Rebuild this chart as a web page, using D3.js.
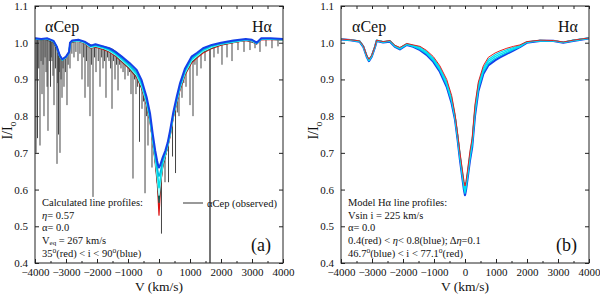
<!DOCTYPE html>
<html>
<head>
<meta charset="utf-8">
<script src="https://cdn.jsdelivr.net/npm/d3@7"></script>
<style>
  body { margin: 0; background: #fff; }
  svg text { font-family: "Liberation Serif", "Times New Roman", serif; fill: #111; }
</style>
</head>
<body>
<svg id="chart" width="600" height="294" font-family="Liberation Serif, serif"></svg>
<script>
// ---- data ----
const xTicks = [-4000, -3000, -2000, -1000, 0, 1000, 2000, 3000, 4000];
const yTicks = [0.4, 0.5, 0.6, 0.7, 0.8, 0.9, 1.0, 1.1];

// panel (a): model grid and profiles for 35deg (red) .. 90deg (blue)
const velA = [-4000,-3800,-3600,-3400,-3300,-3200,-3120,-3000,-2900,-2870,-2800,-2600,-2400,-2200,-2050,-1800,-1600,-1400,-1200,-950,-720,-560,-400,-290,-200,-120,-60,-25,0,25,60,120,200,280,360,460,570,680,840,1050,1220,1420,1700,2000,2400,2800,3000,3150,3300,3600,4000];
const profA35 = [1.010,1.008,1.010,1.003,0.988,0.962,0.952,0.958,0.972,0.997,1.003,1.004,0.998,0.985,0.988,0.982,0.975,0.963,0.948,0.928,0.905,0.875,0.830,0.785,0.728,0.678,0.625,0.572,0.530,0.568,0.618,0.665,0.690,0.715,0.745,0.795,0.835,0.872,0.912,0.945,0.958,0.972,0.984,0.993,1.000,1.006,1.004,0.996,1.008,1.009,1.008];
const profA42 = [1.010,1.008,1.010,1.003,0.988,0.962,0.952,0.959,0.972,0.997,1.003,1.005,0.999,0.986,0.990,0.984,0.977,0.965,0.950,0.930,0.908,0.878,0.833,0.788,0.731,0.681,0.632,0.592,0.565,0.588,0.624,0.667,0.692,0.717,0.748,0.798,0.838,0.875,0.915,0.948,0.961,0.975,0.986,0.995,1.001,1.007,1.005,0.997,1.009,1.009,1.008];
const profA50 = [1.010,1.009,1.010,1.004,0.988,0.963,0.953,0.959,0.973,0.998,1.004,1.005,1.000,0.987,0.991,0.985,0.978,0.967,0.952,0.933,0.911,0.882,0.836,0.791,0.733,0.683,0.640,0.608,0.585,0.603,0.630,0.670,0.694,0.719,0.750,0.800,0.840,0.878,0.918,0.951,0.963,0.977,0.988,0.996,1.002,1.007,1.005,0.998,1.009,1.010,1.008];
const profA60 = [1.011,1.009,1.011,1.004,0.989,0.963,0.953,0.960,0.973,0.998,1.004,1.006,1.001,0.989,0.992,0.986,0.980,0.969,0.955,0.936,0.915,0.886,0.840,0.795,0.737,0.688,0.650,0.624,0.605,0.618,0.640,0.674,0.697,0.721,0.753,0.802,0.843,0.881,0.921,0.954,0.966,0.979,0.990,0.997,1.003,1.008,1.006,0.998,1.010,1.010,1.009];
const profA75 = [1.011,1.009,1.011,1.004,0.989,0.964,0.954,0.961,0.974,0.999,1.005,1.007,1.002,0.990,0.994,0.988,0.982,0.972,0.958,0.940,0.920,0.891,0.845,0.800,0.742,0.695,0.663,0.645,0.636,0.642,0.655,0.680,0.700,0.724,0.757,0.805,0.846,0.885,0.925,0.958,0.969,0.982,0.992,0.998,1.004,1.009,1.007,0.999,1.011,1.011,1.009];
const profA90 = [1.012,1.010,1.012,1.005,0.990,0.965,0.955,0.962,0.975,1.000,1.006,1.008,1.003,0.992,0.996,0.990,0.985,0.975,0.962,0.945,0.926,0.898,0.852,0.808,0.750,0.705,0.678,0.665,0.660,0.664,0.672,0.688,0.705,0.728,0.762,0.810,0.852,0.890,0.930,0.962,0.972,0.985,0.994,1.000,1.006,1.010,1.008,1.000,1.012,1.012,1.010];

// panel (a): observed alpha Cep spectrum (continuum + telluric/blend lines [v, top, bottom])
const obsV = [-4000,-3700,-3400,-3250,-3130,-3000,-2900,-2870,-2600,-2300,-2100,-1800,-1500,-1200,-950,-720,-560,-400,-290,-200,-120,-60,0,60,120,200,280,360,460,570,680,840,1050,1220,1420,1700,2000,2400,2800,3150,3300,3600,4000];
const obsI = [1.012,1.010,1.000,0.975,0.955,0.960,0.975,1.000,1.005,0.998,0.990,0.990,0.982,0.962,0.940,0.915,0.885,0.840,0.790,0.730,0.670,0.620,0.600,0.620,0.660,0.690,0.720,0.750,0.800,0.840,0.880,0.920,0.955,0.968,0.980,0.990,0.998,1.004,1.006,0.998,1.010,1.010,1.008];
const obsLines = [
  [-3968,1.01,0.70],[-3940,1.01,0.90],[-3919,1.01,0.74],[-3880,1.01,0.93],[-3839,1.01,0.72],[-3805,1.01,0.95],
  [-3774,1.01,0.86],[-3740,1.01,0.94],[-3710,1.01,0.80],[-3675,1.01,0.96],[-3645,1.01,0.92],[-3610,1.01,0.88],
  [-3581,1.01,0.76],[-3540,1.008,0.95],[-3500,1.005,0.88],[-3475,1.002,0.96],[-3452,1.0,0.95],[-3420,1.0,0.91],
  [-3387,1.0,0.83],[-3340,0.995,0.93],[-3290,0.985,0.67],[-3265,0.98,0.89],[-3242,0.975,0.75],[-3215,0.97,0.92],
  [-3194,0.965,0.70],[-3160,0.958,0.90],[-3129,0.955,0.85],[-3095,0.955,0.93],[-3065,0.957,0.88],[-3020,0.96,0.92],
  [-2968,0.965,0.83],[-2930,0.97,0.94],[-2871,1.0,0.93],[-2810,1.004,0.97],[-2742,1.005,0.96],[-2680,1.005,0.975],
  [-2613,1.005,0.95],[-2550,1.003,0.97],[-2484,1.0,0.90],[-2430,0.999,0.96],[-2387,0.998,0.85],[-2340,0.997,0.95],
  [-2290,0.996,0.88],[-2226,0.993,0.80],[-2180,0.992,0.94],[-2129,0.99,0.58],[-2080,0.99,0.96],[-2032,0.99,0.92],
  [-1960,0.99,0.95],[-1903,0.99,0.88],[-1850,0.99,0.96],[-1806,0.99,0.93],[-1760,0.989,0.95],[-1710,0.988,0.85],
  [-1660,0.986,0.96],[-1613,0.985,0.95],[-1560,0.983,0.93],[-1516,0.982,0.82],[-1470,0.98,0.95],[-1419,0.978,0.90],
  [-1370,0.974,0.94],[-1322,0.97,0.87],[-1270,0.967,0.94],[-1226,0.963,0.93],[-1160,0.958,0.92],[-1097,0.953,0.90],
  [-1000,0.945,0.91],[-950,0.94,0.92],[-903,0.935,0.86],[-839,0.93,0.63],[-790,0.925,0.90],[-742,0.918,0.86],
  [-690,0.91,0.88],[-629,0.90,0.73],[-548,0.882,0.82],[-500,0.87,0.84],[-451,0.855,0.59],[-400,0.84,0.80],
  [-355,0.82,0.72],[-226,0.75,0.66],[80,0.64,0.48],[194,0.69,0.62],[307,0.73,0.62],[436,0.79,0.69],
  [533,0.825,0.645],[590,0.845,0.81],[645,0.87,0.80],[742,0.895,0.85],[800,0.91,0.89],[871,0.925,0.88],
  [1000,0.95,0.83],[1097,0.958,0.80],[1160,0.962,0.94],[1226,0.968,0.91],[1355,0.976,0.93],[1484,0.982,0.95],
  [1645,0.988,0.30],[1774,0.992,0.96],[1903,0.995,0.97],[2032,0.998,0.94],[2194,1.0,0.96],[2355,1.002,0.95],
  [2548,1.004,0.98],[2742,1.006,0.975],[2935,1.005,0.98],[3097,1.0,0.985],[3258,1.005,0.975],[3452,1.01,0.99],
  [3645,1.01,0.985],[3839,1.01,0.99]
];

// panel (b): model grid and profiles for eta 0.4 (red) .. 0.8 (blue)
const velB = [-4000,-3700,-3400,-3280,-3170,-3100,-3010,-2900,-2850,-2640,-2420,-2260,-2100,-1880,-1670,-1450,-1240,-1020,-810,-590,-430,-320,-235,-160,-75,-30,0,30,75,160,230,320,430,590,750,970,1130,1350,1560,1770,1990,2420,2850,3170,3490,4000];
const profB04 = [1.010,1.008,1.005,0.992,0.966,0.955,0.966,0.992,1.007,1.003,1.006,0.993,0.987,0.998,0.994,0.990,0.979,0.962,0.937,0.900,0.856,0.805,0.752,0.700,0.648,0.622,0.610,0.622,0.648,0.705,0.740,0.830,0.893,0.937,0.960,0.972,0.978,0.985,0.990,0.994,1.003,1.007,1.006,1.002,1.007,1.013];
const profB05 = [1.010,1.008,1.005,0.991,0.965,0.954,0.965,0.991,1.007,1.003,1.005,0.992,0.986,0.997,0.993,0.988,0.976,0.958,0.932,0.894,0.850,0.801,0.748,0.696,0.643,0.615,0.603,0.615,0.643,0.698,0.734,0.823,0.887,0.931,0.954,0.967,0.974,0.981,0.987,0.992,1.002,1.006,1.006,1.002,1.007,1.013];
const profB06 = [1.009,1.007,1.004,0.990,0.964,0.952,0.964,0.991,1.006,1.002,1.005,0.991,0.985,0.996,0.991,0.985,0.973,0.955,0.929,0.889,0.845,0.798,0.744,0.691,0.637,0.609,0.596,0.609,0.637,0.692,0.728,0.815,0.880,0.926,0.949,0.962,0.969,0.977,0.984,0.990,1.002,1.006,1.005,1.001,1.006,1.012];
const profB07 = [1.009,1.007,1.004,0.990,0.963,0.951,0.963,0.990,1.006,1.002,1.004,0.990,0.983,0.995,0.990,0.982,0.970,0.951,0.925,0.884,0.840,0.794,0.739,0.685,0.631,0.602,0.590,0.602,0.631,0.685,0.721,0.807,0.874,0.920,0.943,0.957,0.964,0.973,0.981,0.989,1.001,1.006,1.005,1.001,1.006,1.012];
const profB08 = [1.009,1.007,1.003,0.989,0.962,0.950,0.962,0.989,1.005,1.001,1.003,0.989,0.982,0.994,0.989,0.980,0.967,0.948,0.921,0.880,0.835,0.790,0.735,0.680,0.626,0.598,0.585,0.598,0.626,0.680,0.715,0.800,0.868,0.915,0.938,0.952,0.960,0.970,0.979,0.988,1.000,1.005,1.005,1.000,1.005,1.012];

// ---- drawing ----
const svg = d3.select("#chart");
const plotTop = 6, plotBottom = 263;
const serif = '"Liberation Serif", "Times New Roman", serif';

function drawPanel(cfg) {
  const x = d3.scaleLinear().domain([-4000, 4000]).range([cfg.left, cfg.right]);
  const y = d3.scaleLinear().domain([0.4, 1.1]).range([plotBottom, plotTop]);
  const g = svg.append("g");

  const clipId = "clip-" + cfg.name;
  svg.append("clipPath").attr("id", clipId)
    .append("rect").attr("x", cfg.left).attr("y", plotTop)
    .attr("width", cfg.right - cfg.left).attr("height", plotBottom - plotTop);
  const plot = g.append("g").attr("clip-path", `url(#${clipId})`);

  const line = d3.line().x(d => x(d[0])).y(d => y(d[1]));

  if (cfg.observed) {
    plot.append("path")
      .datum(obsV.map((v, i) => [v, obsI[i]]))
      .attr("fill", "none").attr("stroke", "#555").attr("stroke-width", 1.2)
      .attr("d", line);
    plot.selectAll("line.obs")
      .data(obsLines)
      .join("line")
      .attr("class", "obs")
      .attr("x1", d => x(d[0])).attr("x2", d => x(d[0]))
      .attr("y1", d => y(d[1])).attr("y2", d => y(d[2]))
      .attr("stroke", d => d[2] < 0.4 ? "#666" : "#444")
      .attr("stroke-width", d => d[2] < 0.4 ? 1.8 : 1);
  }

  cfg.curves.forEach(c => {
    plot.append("path")
      .datum(cfg.vel.map((v, i) => [v, c.values[i]]))
      .attr("fill", "none")
      .attr("stroke", c.color)
      .attr("stroke-width", c.width)
      .attr("stroke-linejoin", "round")
      .attr("d", line);
  });

  // frame
  g.append("rect")
    .attr("x", cfg.left).attr("y", plotTop)
    .attr("width", cfg.right - cfg.left).attr("height", plotBottom - plotTop)
    .attr("fill", "none").attr("stroke", "#222").attr("stroke-width", 1);

  // axes with inward ticks
  const xMinor = d3.range(-4000, 4001, 500);
  g.append("g").attr("transform", `translate(0,${plotBottom})`)
    .call(d3.axisBottom(x).tickValues(xMinor).tickSize(-2).tickFormat(""))
    .call(a => a.select(".domain").remove());
  g.append("g").attr("transform", `translate(0,${plotBottom})`)
    .call(d3.axisBottom(x).tickValues(xTicks).tickSize(-4).tickPadding(5).tickFormat(d3.format("d")))
    .call(a => a.select(".domain").remove());
  g.append("g").attr("transform", `translate(0,${plotTop})`)
    .call(d3.axisTop(x).tickValues(xMinor).tickSize(-3).tickFormat(""))
    .call(a => a.select(".domain").remove());
  g.append("g").attr("transform", `translate(${cfg.left},0)`)
    .call(d3.axisLeft(y).tickValues(yTicks).tickSize(-4).tickPadding(7).tickFormat(d3.format(".1f")))
    .call(a => a.select(".domain").remove());
  g.append("g").attr("transform", `translate(${cfg.right},0)`)
    .call(d3.axisRight(y).tickValues(yTicks).tickSize(-4).tickFormat(""))
    .call(a => a.select(".domain").remove());

  g.selectAll("g").attr("font-family", serif);
  g.selectAll(".tick line").attr("stroke", "#222");
  g.selectAll(".tick text")
    .style("font-family", serif)
    .style("font-size", "11px").attr("fill", "#222");

  // axis titles
  const cx = (cfg.left + cfg.right) / 2;
  g.append("text").attr("x", cx).attr("y", 291).attr("text-anchor", "middle")
    .style("font-size", "13.5px").text("V (km/s)");
  const yl = g.append("text")
    .attr("transform", `translate(${cfg.left - 23},${(plotTop + plotBottom) / 2 - 4}) rotate(-90)`)
    .attr("text-anchor", "middle").style("font-size", "14px");
  yl.append("tspan").text("I/I");
  yl.append("tspan").attr("dy", 4).style("font-size", "10px").text("o");

  // corner labels
  g.append("text").attr("x", cfg.left + (cfg.name === "a" ? 10 : 11)).attr("y", 32)
    .style("font-size", "16px").text("αCep");
  g.append("text").attr("x", cfg.right - 11).attr("y", 32).attr("text-anchor", "end")
    .style("font-size", "16px").text("Hα");
  g.append("text").attr("x", cfg.right - 12).attr("y", 251).attr("text-anchor", "end")
    .style("font-size", "18px").text(cfg.tag);

  // annotation lines
  const notes = g.append("g").style("font-size", "10.5px");
  cfg.notes.forEach((parts, i) => {
    const t = notes.append("text").attr("x", cfg.left + 7).attr("y", 206 + i * 12.7);
    parts.forEach(p => {
      const s = t.append("tspan").text(p.t);
      if (p.sub) s.attr("dy", 1).style("font-size", "7px");
      if (p.sup) s.attr("dy", -4).style("font-size", "7.5px");
      if (p.back) s.attr("dy", p.back);
      if (p.it) s.style("font-style", "italic");
    });
  });

  if (cfg.observed) {
    g.append("line").attr("x1", 183).attr("x2", 203).attr("y1", 203).attr("y2", 203)
      .attr("stroke", "#777").attr("stroke-width", 1.5);
    g.append("text").attr("x", 207).attr("y", 207).style("font-size", "10.5px").text("αCep (observed)");
  }
}

drawPanel({
  name: "a", tag: "(a)", left: 35, right: 283, vel: velA, observed: true,
  curves: [
    { values: profA35, color: "#dd1111", width: 1.2 },
    { values: profA42, color: "#0b5c50", width: 1.2 },
    { values: profA50, color: "#aaffff", width: 1.4 },
    { values: profA60, color: "#00e4ee", width: 1.6 },
    { values: profA75, color: "#00b8e0", width: 1.4 },
    { values: profA90, color: "#1540e8", width: 2 }
  ],
  notes: [
    [{ t: "Calculated line profiles:" }],
    [{ t: "η", it: true }, { t: "= 0.57" }],
    [{ t: "α= 0.0" }],
    [{ t: "V" }, { t: "eq", sub: true }, { t: " = 267 km/s", back: -1 }],
    [{ t: "35" }, { t: "o", sup: true }, { t: "(red) < i < 90", back: 4 }, { t: "o", sup: true }, { t: "(blue)", back: 4 }]
  ]
});

drawPanel({
  name: "b", tag: "(b)", left: 341, right: 589, vel: velB, observed: false,
  curves: [
    { values: profB08, color: "#1540e8", width: 2.2 },
    { values: profB07, color: "#00c8ee", width: 1.4 },
    { values: profB06, color: "#00e8f4", width: 1.4 },
    { values: profB05, color: "#00d8f0", width: 1.2 },
    { values: profB04, color: "#e02020", width: 1 }
  ],
  notes: [
    [{ t: "Model Hα line profiles:" }],
    [{ t: "Vsin i = 225 km/s" }],
    [{ t: "α= 0.0" }],
    [{ t: "0.4(red) < " }, { t: "η", it: true }, { t: "< 0.8(blue); Δ" }, { t: "η", it: true }, { t: "=0.1" }],
    [{ t: "46.7" }, { t: "o", sup: true }, { t: "(blue) < i < 77.1", back: 4 }, { t: "o", sup: true }, { t: "(red)", back: 4 }]
  ]
});
</script>
</body>
</html>
